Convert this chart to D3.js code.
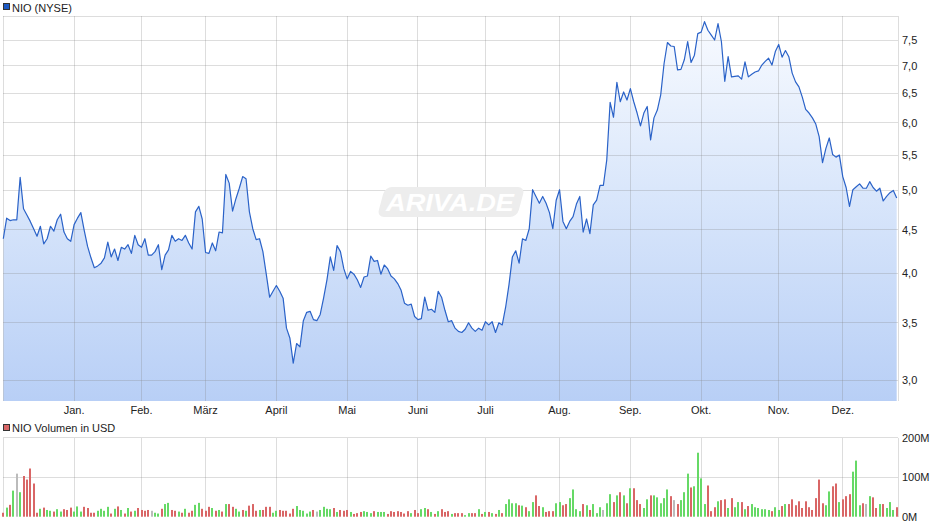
<!DOCTYPE html>
<html>
<head>
<meta charset="utf-8">
<script src="https://cdn.jsdelivr.net/npm/d3@7"></script>
<style>
  html, body { margin: 0; padding: 0; background: #ffffff; }
  svg { display: block; }
  text { font-family: "Liberation Sans", Arial, sans-serif; }
</style>
</head>
<body>
<div id="chart"></div>
<script>
// ---------------- DATA ----------------
const seriesName = "NIO (NYSE)";
const volumeName = "NIO Volumen in USD";

// Daily closing prices (USD), one per trading day, Dec 2, 2024 – Dec 23, 2025
const priceValues = [
  4.39,4.64,4.61,4.62,4.62,5.18,4.76,4.68,4.60,4.51,
  4.42,4.54,4.33,4.39,4.54,4.48,4.62,4.69,4.47,4.39,
  4.36,4.56,4.64,4.71,4.49,4.30,4.17,4.06,4.08,4.11,
  4.17,4.35,4.18,4.27,4.14,4.29,4.27,4.32,4.22,4.43,
  4.32,4.29,4.39,4.20,4.20,4.24,4.32,4.04,4.20,4.26,
  4.43,4.36,4.39,4.37,4.43,4.34,4.27,4.72,4.79,4.63,
  4.23,4.22,4.34,4.25,4.47,4.46,5.22,5.10,4.73,4.89,
  5.03,5.19,5.16,4.72,4.51,4.38,4.39,4.24,3.99,3.75,
  3.81,3.87,3.81,3.74,3.45,3.36,3.14,3.31,3.28,3.52,
  3.60,3.61,3.53,3.52,3.58,3.74,3.93,4.18,4.03,4.31,
  4.24,4.05,3.94,4.02,3.99,3.93,3.85,3.96,3.97,4.19,
  4.13,4.14,3.99,4.09,4.05,3.97,3.94,3.89,3.82,3.69,
  3.67,3.68,3.56,3.53,3.54,3.75,3.62,3.63,3.60,3.81,
  3.75,3.62,3.51,3.52,3.45,3.42,3.41,3.44,3.50,3.45,
  3.42,3.45,3.43,3.51,3.48,3.51,3.41,3.50,3.48,3.65,
  3.88,4.18,4.25,4.11,4.39,4.37,4.51,5.01,4.92,4.83,
  4.92,4.83,4.71,4.51,4.87,5.01,4.60,4.51,4.60,4.66,
  4.82,4.92,4.47,4.63,4.45,4.81,4.87,5.07,5.07,5.43,
  6.34,6.09,6.69,6.35,6.52,6.38,6.58,6.35,6.16,5.95,
  6.16,6.27,5.73,6.08,6.21,6.47,7.04,7.45,7.38,7.37,
  6.92,6.93,7.11,7.47,7.06,7.20,7.63,7.66,7.88,7.70,
  7.60,7.50,7.84,7.47,6.71,7.17,6.79,6.80,6.81,6.75,
  7.07,6.79,6.84,6.88,6.90,7.01,7.08,7.14,7.01,7.27,
  7.41,7.16,7.29,7.17,6.86,6.70,6.61,6.43,6.22,6.16,
  6.08,5.98,5.78,5.39,5.60,5.76,5.51,5.47,5.50,5.19,
  5.04,4.79,5.01,5.05,5.09,5.03,5.03,5.12,5.04,4.99,
  5.03,4.86,4.92,4.97,5.00,4.90
];

// Daily volume (million USD)
const volumeValues = [
  10,23,30,66,109,62,103,94,122,84,
  10,20,23,17,15,13,19,13,19,17,
  23,13,26,13,25,22,10,10,15,20,
  15,25,8,20,26,17,8,22,13,15,
  22,17,15,17,15,10,8,20,32,35,
  17,15,13,10,20,10,15,30,35,20,
  15,25,22,15,17,13,32,32,25,20,
  13,17,15,28,32,15,17,17,25,25,
  10,15,17,15,15,8,20,27,17,15,
  8,13,17,13,17,25,20,19,22,12,
  17,15,17,12,7,9,12,14,12,9,
  14,12,12,12,7,14,12,14,12,8,
  14,9,17,9,19,22,19,12,7,14,
  19,12,14,7,9,9,9,4,9,9,
  9,19,7,12,12,9,7,17,9,32,
  44,34,34,29,28,24,14,37,54,27,
  24,12,14,14,34,37,29,32,47,69,
  19,14,32,29,17,32,9,24,17,34,
  57,37,54,62,54,34,72,72,42,32,
  22,44,54,54,49,34,47,69,52,42,
  32,42,62,109,74,77,162,97,32,79,
  14,24,39,42,44,22,47,24,37,37,
  19,27,32,24,22,19,19,17,14,24,
  17,27,32,32,44,29,39,22,39,24,
  17,47,94,34,29,64,77,84,37,44,
  52,57,114,142,29,34,32,52,49,22,
  32,32,22,37,17,24
];

// Day direction for volume colouring: u = up, d = down, n = unchanged
const volumeDirection = [
  "d","u","d","u","n","u","d","d","d","d",
  "d","u","d","u","u","d","u","u","d","d",
  "d","u","u","u","d","d","d","d","u","u",
  "u","u","d","u","d","u","d","u","d","u",
  "d","d","d","d","n","u","u","d","u","u",
  "d","d","u","d","u","d","d","u","u","d",
  "d","d","u","d","u","d","u","d","d","u",
  "u","d","u","d","d","d","u","d","d","d",
  "u","u","d","d","d","d","d","u","u","u",
  "u","u","d","n","u","u","u","u","d","u",
  "d","d","d","u","d","d","d","u","u","u",
  "d","u","u","u","d","d","d","d","d","d",
  "d","u","d","d","u","u","d","u","d","u",
  "d","d","d","u","d","d","d","u","u","d",
  "d","u","d","u","d","u","d","u","d","u",
  "u","u","u","d","u","d","u","u","d","d",
  "u","d","d","d","u","u","d","d","u","u",
  "u","u","d","u","d","u","u","u","n","u",
  "u","d","u","d","u","d","u","d","d","d",
  "u","u","d","u","u","u","u","u","d","n",
  "d","u","u","u","d","u","u","u","u","d",
  "d","d","u","d","d","u","d","u","u","d",
  "u","d","u","u","u","u","u","u","d","u",
  "u","d","u","d","d","d","d","d","d","d",
  "d","d","d","d","u","u","d","d","u","d",
  "d","d","u","u","u","d","n","u","d","d",
  "u","d","u","u","u","d"
];

// Month labels and the trading-day index of each month's first session
const monthLabels = ["Jan.","Feb.","März","April","Mai","Juni","Juli","Aug.","Sep.","Okt.","Nov.","Dez."];
const monthStartIndex = [21,41,60,81,102,123,143,165,186,207,230,249];

const priceTicks = [3.0,3.5,4.0,4.5,5.0,5.5,6.0,6.5,7.0,7.5];
const volumeTicks = [0,100,200];
const volumeTickLabels = ["0M","100M","200M"];

// ---------------- LAYOUT ----------------
const W = 940, H = 526;
const plotL = 3, plotR = 898;
const priceTop = 16, priceBot = 401;
const volTop = 437.7, volBot = 516.7;

const svg = d3.select("#chart").append("svg")
  .attr("width", W).attr("height", H)
  .attr("viewBox", `0 0 ${W} ${H}`);

const n = priceValues.length;
const x = d3.scaleLinear().domain([0, n - 1]).range([3.3, 896.7]);
const y = d3.scaleLog().domain([3, 7.5]).range([380, 40]);
const yv = d3.scaleLinear().domain([0, 200]).range([volBot, volTop]);

const de = d3.formatLocale({decimal: ",", thousands: ".", grouping: [3], currency: ["", " €"]});
const fmt = de.format(".1f");
const crisp = v => Math.round(v) + 0.5;

// gradient
const defs = svg.append("defs");
const grad = defs.append("linearGradient").attr("id", "areaGrad")
  .attr("gradientUnits", "userSpaceOnUse")
  .attr("x1", 0).attr("x2", 0).attr("y1", priceTop).attr("y2", priceBot);
grad.append("stop").attr("offset", "0%").attr("stop-color", "#f9fbff");
grad.append("stop").attr("offset", "45%").attr("stop-color", "#dae7fb");
grad.append("stop").attr("offset", "100%").attr("stop-color", "#b8cff6");

// ---------------- PRICE PANEL ----------------
const idx = d3.range(n);

svg.append("path")
  .attr("fill", "url(#areaGrad)")
  .attr("d", d3.area().x(i => x(i)).y0(priceBot).y1(i => y(priceValues[i]))(idx));

const grid = svg.append("g")
  .attr("stroke", "#808080").attr("stroke-opacity", 0.27).attr("stroke-width", 1)
  .attr("shape-rendering", "crispEdges");

grid.selectAll("line.hp").data(priceTicks).join("line")
  .attr("x1", plotL).attr("x2", plotR)
  .attr("y1", d => crisp(y(d) - 0.5)).attr("y2", d => crisp(y(d) - 0.5));
grid.append("line").attr("x1", plotL).attr("x2", plotR).attr("y1", priceTop + 0.5).attr("y2", priceTop + 0.5);
grid.append("line").attr("x1", plotL + 0.5).attr("x2", plotL + 0.5).attr("y1", priceTop).attr("y2", priceBot);
grid.append("line").attr("x1", plotR + 0.5).attr("x2", plotR + 0.5).attr("y1", priceTop).attr("y2", priceBot);
grid.selectAll("line.vp").data(monthStartIndex).join("line")
  .attr("x1", d => crisp(x(d) - 0.5)).attr("x2", d => crisp(x(d) - 0.5))
  .attr("y1", priceTop).attr("y2", priceBot);

// watermark
const wm = svg.append("g").attr("transform", "translate(451,202) skewX(-15) translate(-451,-202)");
wm.append("rect").attr("x", 381).attr("y", 187).attr("width", 140).attr("height", 30)
  .attr("rx", 7).attr("fill", "#ededed");
svg.append("text").attr("x", 386).attr("y", 211)
  .attr("font-size", 24).attr("font-weight", "bold").attr("font-style", "italic")
  .attr("fill", "#ffffff").attr("textLength", 128).attr("lengthAdjust", "spacingAndGlyphs")
  .text("ARIVA.DE");

// price line
svg.append("path")
  .attr("fill", "none").attr("stroke", "#2a62c8").attr("stroke-width", 1.2)
  .attr("stroke-linejoin", "round")
  .attr("d", d3.line().x(i => x(i)).y(i => y(priceValues[i]))(idx));

// price axis labels (right)
svg.append("g").selectAll("text").data(priceTicks).join("text")
  .attr("x", 902).attr("y", d => y(d) + 4)
  .attr("font-size", 11).attr("fill", "#222")
  .text(d => fmt(d));

// month labels
svg.append("g").selectAll("text").data(monthStartIndex).join("text")
  .attr("x", d => x(d)).attr("y", 414)
  .attr("text-anchor", "middle").attr("font-size", 11).attr("fill", "#222")
  .text((d, i) => monthLabels[i]);

// legend price
svg.append("rect").attr("x", 3.5).attr("y", 3.5).attr("width", 6).attr("height", 6)
  .attr("fill", "#1d5ac4").attr("stroke", "#333").attr("stroke-width", 1);
svg.append("text").attr("x", 12).attr("y", 11.5).attr("font-size", 11).attr("fill", "#222").text(seriesName);

// ---------------- VOLUME PANEL ----------------
svg.append("rect").attr("x", 3.5).attr("y", 424.5).attr("width", 6).attr("height", 6)
  .attr("fill", "#d96666").attr("stroke", "#333").attr("stroke-width", 1);
svg.append("text").attr("x", 12).attr("y", 432).attr("font-size", 11).attr("fill", "#222").text(volumeName);

const vgrid = svg.append("g")
  .attr("stroke", "#808080").attr("stroke-opacity", 0.27).attr("stroke-width", 1)
  .attr("shape-rendering", "crispEdges");
vgrid.selectAll("line.hv").data(volumeTicks.filter(v => v > 0)).join("line")
  .attr("x1", plotL).attr("x2", plotR)
  .attr("y1", d => crisp(yv(d) - 0.5)).attr("y2", d => crisp(yv(d) - 0.5));
vgrid.append("line").attr("x1", plotL + 0.5).attr("x2", plotL + 0.5).attr("y1", volTop).attr("y2", volBot);
vgrid.append("line").attr("x1", plotR + 0.5).attr("x2", plotR + 0.5).attr("y1", volTop).attr("y2", volBot);
vgrid.selectAll("line.vv").data(monthStartIndex).join("line")
  .attr("x1", d => crisp(x(d) - 0.5)).attr("x2", d => crisp(x(d) - 0.5))
  .attr("y1", volTop).attr("y2", volBot);

const volColor = {u: "#66d966", d: "#d96666", n: "#bbbbbb"};
svg.append("g").selectAll("rect").data(idx).join("rect")
  .attr("x", i => Math.round(x(i) - 1))
  .attr("width", 2)
  .attr("y", i => yv(volumeValues[i]))
  .attr("height", i => yv(0) - yv(volumeValues[i]))
  .attr("fill", i => volColor[volumeDirection[i]]);

svg.append("g").selectAll("text").data(volumeTicks).join("text")
  .attr("x", 902).attr("y", d => yv(d) + 3.8)
  .attr("font-size", 11).attr("fill", "#222")
  .text((d, i) => volumeTickLabels[i]);
</script>
</body>
</html>
